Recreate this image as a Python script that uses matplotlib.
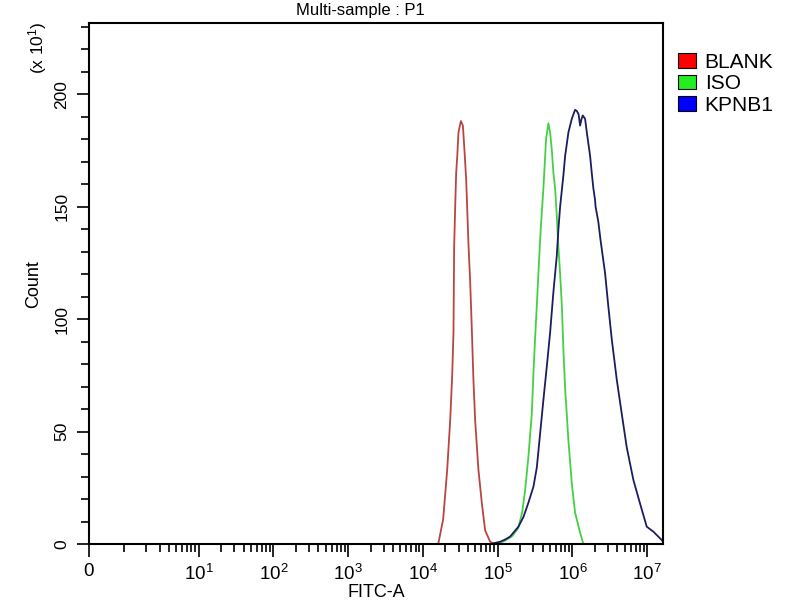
import numpy as np
import matplotlib
matplotlib.use('Agg')
import matplotlib.pyplot as plt
from matplotlib.patches import Patch

plt.rcParams['font.family'] = ['Liberation Sans', 'DejaVu Sans']
plt.rcParams['mathtext.fontset'] = 'custom'
plt.rcParams['mathtext.rm'] = 'Liberation Sans'
plt.rcParams['mathtext.it'] = 'Liberation Sans'

# histogram outlines: log10(FITC-A) vs count (x10)
blank_log_fitc = [4.205, 4.271, 4.325, 4.365, 4.392, 4.409, 4.418, 4.432, 4.445, 4.459,
                  4.476, 4.508, 4.535, 4.556, 4.579, 4.592, 4.610, 4.632, 4.655, 4.676,
                  4.699, 4.743, 4.789, 4.833, 4.900, 4.953]
blank_count = [0, 11, 33, 55, 75, 94, 132, 150, 165, 172,
               183, 188, 186, 175, 162, 150, 133, 117, 95, 73,
               55, 33, 18, 6, 1, 0]

iso_log_fitc = [4.993, 5.100, 5.194, 5.274, 5.328, 5.368, 5.412, 5.457, 5.479, 5.502,
                5.524, 5.545, 5.568, 5.582, 5.612, 5.635, 5.648, 5.679, 5.702, 5.725,
                5.746, 5.769, 5.791, 5.813, 5.836, 5.859, 5.880, 5.903, 5.947, 5.992,
                6.036, 6.103, 6.147]
iso_count = [0, 1.5, 3.5, 7, 14, 24, 39, 58, 76, 92,
             106, 120, 135, 143, 158, 172, 180, 187, 183, 175,
             165, 158, 146, 132, 120, 106, 86, 69, 46, 27,
             14, 5, 0]

kpnb1_log_fitc = [4.900, 4.967, 5.033, 5.100, 5.167, 5.278, 5.345, 5.408, 5.479, 5.524,
                  5.568, 5.612, 5.658, 5.702, 5.746, 5.791, 5.813, 5.836, 5.880, 5.903,
                  5.947, 5.992, 6.036, 6.059, 6.083, 6.103, 6.123, 6.139, 6.170, 6.193,
                  6.237, 6.259, 6.281, 6.303, 6.310, 6.348, 6.377, 6.437, 6.481, 6.527,
                  6.594, 6.660, 6.727, 6.816, 6.905, 6.995, 7.083, 7.195, 7.212]
kpnb1_count = [0, 0.5, 1, 2, 3.3, 7.7, 12, 18, 25.5, 34,
               49, 64, 79, 94, 112, 128, 140, 150, 164, 172.5,
               183, 189, 193, 192.5, 191, 186, 189, 190.5, 189, 183,
               172.5, 165, 158, 153, 150, 143, 135, 120.5, 105.6, 91,
               73, 58, 43, 28.5, 18, 7.7, 5.5, 1.8, 1]

series_names = ['BLANK', 'ISO', 'KPNB1']
line_colors = ['#b8453f', '#44d044', '#1c1c60']
legend_colors = ['#ff0000', '#22ee22', '#0000ff']

x_decades = [1, 2, 3, 4, 5, 6, 7]
y_major = [0, 50, 100, 150, 200]

XMIN, XMAX = -0.47, 7.215

fig = plt.figure(figsize=(8, 6), dpi=100)
ax = fig.add_axes([0.111, 0.0933, 0.718, 0.868])

ax.plot(blank_log_fitc, blank_count, color=line_colors[0], lw=1.3)
ax.plot(iso_log_fitc, iso_count, color=line_colors[1], lw=1.3)
ax.plot(kpnb1_log_fitc, kpnb1_count, color=line_colors[2], lw=1.3)

ax.set_xlim(XMIN, XMAX)
ax.set_ylim(0, 231.5)

# x axis: "0" at the left edge, then log decades
ax.set_xticks([XMIN] + x_decades)
ax.set_xticklabels(['0'] + [r'$10^{%d}$' % d for d in x_decades], fontsize=13.5)
minor = [np.log10(k) + d for d in range(0, 7) for k in range(1, 10) if not (k == 1 and d > 0)]
ax.set_xticks(minor, minor=True)

ax.set_yticks(y_major)
ax.set_yticklabels([str(v) for v in y_major], rotation=90, va='center', fontsize=12.5)
ax.set_yticks(np.arange(0, 231, 10), minor=True)

ax.tick_params(which='major', direction='out', length=9, width=1.2, pad=5)
ax.tick_params(which='minor', direction='out', length=6, width=1.2)
for s in ax.spines.values():
    s.set_linewidth(1.5)

ax.set_xlabel('FITC-A', fontsize=13)
ax.xaxis.set_label_coords(0.5, -0.076)
ax.set_ylabel('Count', fontsize=13, labelpad=9)

fig.text(0.047, 0.92, r'(x 10$^{1}$)', rotation=90, ha='center', va='center', fontsize=12.5)
fig.text(0.451, 0.982, 'Multi-sample : P1', ha='center', va='center', fontsize=12)

handles = [Patch(facecolor=c, edgecolor='black', lw=0.8) for c in legend_colors]
fig.legend(handles, series_names, loc='upper left', bbox_to_anchor=(0.847, 0.912),
           frameon=False, fontsize=15, handlelength=0.9, handleheight=0.72,
           handletextpad=0.4, labelspacing=0.12, borderaxespad=0, borderpad=0)

fig.savefig('out.png', dpi=100)
